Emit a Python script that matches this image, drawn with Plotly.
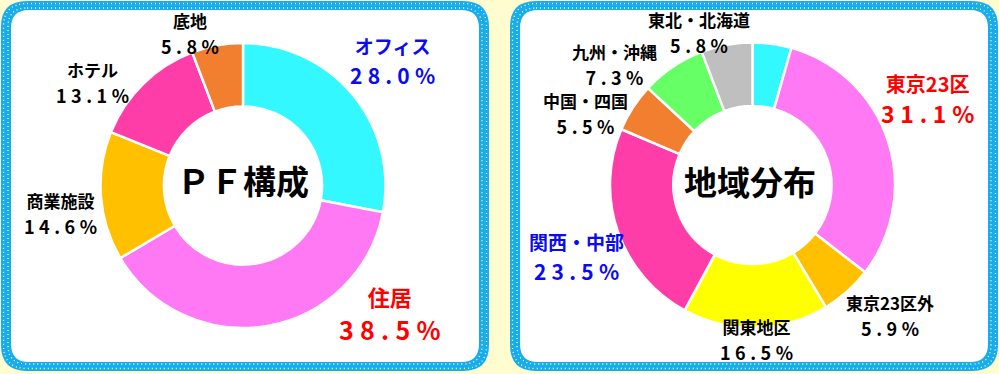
import plotly.graph_objects as go

# ---------------- data ----------------
pf_labels = ["オフィス", "住居", "商業施設", "ホテル", "底地"]
pf_values = [28.0, 38.5, 14.6, 13.1, 5.8]
pf_colors = ["#33F8FF", "#FF78F4", "#FFC000", "#FF3DA8", "#F27E30"]

area_labels = ["その他", "東京23区", "東京23区外", "関東地区", "関西・中部",
               "中国・四国", "九州・沖縄", "東北・北海道"]
area_values = [4.4, 31.1, 5.9, 16.5, 23.5, 5.5, 7.3, 5.8]
area_colors = ["#33F8FF", "#FF78F4", "#FFC000", "#FFFF00", "#FF3DA8",
               "#F27E30", "#66FF66", "#BFBFBF"]

pf_title = "ＰＦ構成"
area_title = "地域分布"

# ---------------- helpers ----------------
W, H = 999, 374
FONT = "Noto Sans CJK JP"


def spaced_pct(v, sp):
    return sp.join(f"{v:.1f}%")


def px(x):
    return x / W


def py(y):
    return 1 - y / H


def rrect(x0, y0, x1, y1, r):
    X0, X1 = px(x0), px(x1)
    Y0, Y1 = py(y0), py(y1)
    rx, ry = r / W, r / H
    return (f"M {X0+rx},{Y0} L {X1-rx},{Y0} Q {X1},{Y0} {X1},{Y0-ry} "
            f"L {X1},{Y1+ry} Q {X1},{Y1} {X1-rx},{Y1} "
            f"L {X0+rx},{Y1} Q {X0},{Y1} {X0},{Y1+ry} "
            f"L {X0},{Y0-ry} Q {X0},{Y0} {X0+rx},{Y0} Z")


fig = go.Figure()

# ---------------- pies ----------------
def add_pie(labels, values, colors, cx, cy, r):
    fig.add_trace(go.Pie(
        labels=labels, values=values, sort=False, direction="clockwise",
        rotation=0, hole=0.555,
        marker=dict(colors=colors, line=dict(color="white", width=2.5)),
        textinfo="none", showlegend=False,
        domain=dict(x=[px(cx - r), px(cx + r)], y=[py(cy + r), py(cy - r)]),
    ))


add_pie(pf_labels, pf_values, pf_colors, 243, 185.5, 142.5)
add_pie(area_labels, area_values, area_colors, 752.5, 185, 142.5)

# ---------------- panels ----------------
shapes = []
BLUE = "#16ADEA"
for (x0, x1) in [(1, 489), (510, 998)]:
    y0, y1 = 1, 371
    shapes.append(dict(type="path", path=rrect(x0, y0, x1, y1, 26),
                       xref="paper", yref="paper", fillcolor=BLUE,
                       line=dict(width=0), layer="below"))
    for ins in (2.5, 7):
        shapes.append(dict(type="path",
                           path=rrect(x0 + ins, y0 + ins, x1 - ins, y1 - ins, 26 - ins),
                           xref="paper", yref="paper",
                           line=dict(color="white", width=1.3, dash="1px,3px"),
                           layer="below"))
    shapes.append(dict(type="path", path=rrect(x0 + 10, y0 + 9, x1 - 10, y1 - 9, 18),
                       xref="paper", yref="paper", fillcolor="white",
                       line=dict(width=0), layer="below"))

# ---------------- labels ----------------
ann = []


def label(text, x, y, size, color="black"):
    ann.append(dict(text=text, x=px(x), y=py(y), xref="paper", yref="paper",
                    xanchor="center", yanchor="middle", showarrow=False,
                    align="center", borderpad=0,
                    font=dict(family=FONT, size=size, color=color, weight="bold")))


def block(title, pct, cx, cy, base, ts, vs, color):
    text = (f"<span style='font-size:{ts}px'>{title}</span><br>"
            f"<span style='font-size:{vs}px'>{pct}</span>")
    label(text, cx, cy, base, color)


RED, BLU = "#FF0000", "#0A0AF5"
SP = "\u2005"

# (center x, block center y, base size, title size, pct size, color)
pf_pos = {
    0: (392, 61, 23, 19, 21, BLU),
    1: (389, 313, 26, 22, 25, RED),
    2: (60, 214, 20, 17, 18, "black"),
    3: (92, 82, 20, 17, 18, "black"),
    4: (190, 33, 20, 17, 18, "black"),
}
for i, (cx, cy, b, ts, vs, c) in pf_pos.items():
    block(pf_labels[i], spaced_pct(pf_values[i], SP), cx, cy, b, ts, vs, c)

area_pos = {
    1: (927, 100, 24, 20, 23, RED),
    2: (890, 315, 20, 17, 18, "black"),
    3: (756, 339, 20, 17, 18, "black"),
    4: (576, 257, 23, 19, 21, BLU),
    5: (585, 113, 20, 17, 18, "black"),
    6: (614, 64, 20, 17, 18, "black"),
    7: (699, 32, 20, 17, 18, "black"),
}
for i, (cx, cy, b, ts, vs, c) in area_pos.items():
    block(area_labels[i], spaced_pct(area_values[i], SP), cx, cy, b, ts, vs, c)

label(pf_title, 243, 180, 33)
label(area_title, 750, 181, 33)

fig.update_layout(
    width=W, height=H, margin=dict(l=0, r=0, t=0, b=0),
    paper_bgcolor="#FFFCCF", plot_bgcolor="#FFFCCF",
    shapes=shapes, annotations=ann, showlegend=False,
)

fig.write_html(
    "out.html",
    config={"displayModeBar": False},
    post_script="document.body.style.margin='0';document.body.style.overflow='hidden';",
)
